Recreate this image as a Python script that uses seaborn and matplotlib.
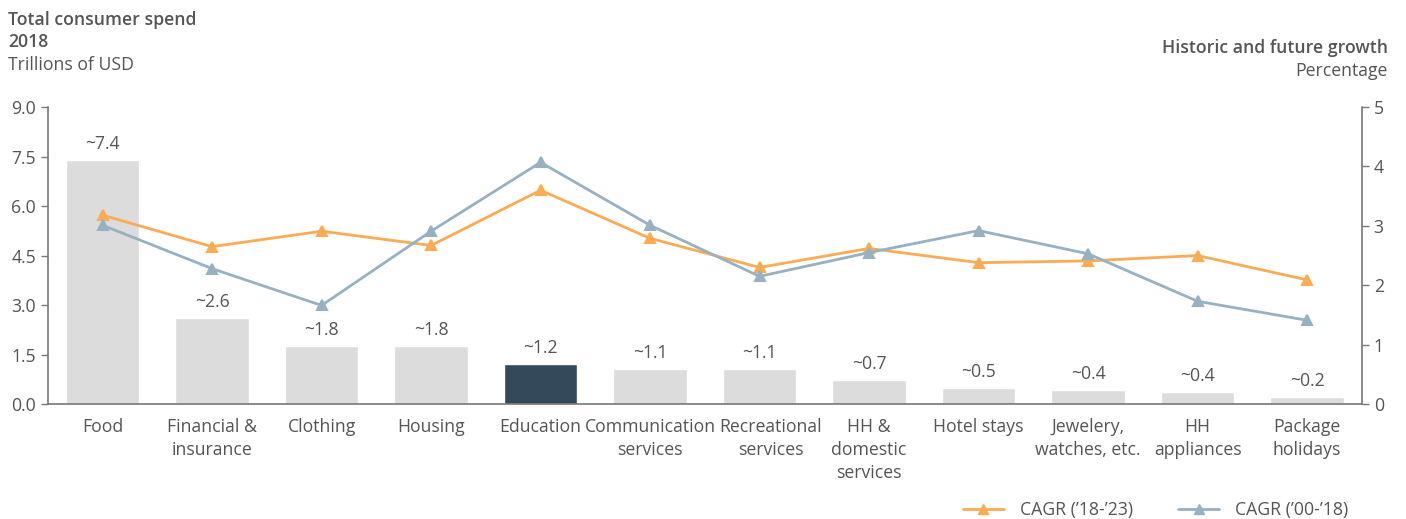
import numpy as np
import pandas as pd
import seaborn as sns
import matplotlib.pyplot as plt
import matplotlib.transforms as mtransforms
from matplotlib.lines import Line2D

# chart data
categories = ["Food", "Financial &\ninsurance", "Clothing", "Housing", "Education",
              "Communication\nservices", "Recreational\nservices", "HH &\ndomestic\nservices",
              "Hotel stays", "Jewelery,\nwatches, etc.", "HH\nappliances", "Package\nholidays"]
spend = [7.4, 2.6, 1.75, 1.75, 1.2, 1.07, 1.07, 0.72, 0.48, 0.42, 0.37, 0.2]
spend_labels = ["~7.4", "~2.6", "~1.8", "~1.8", "~1.2", "~1.1", "~1.1", "~0.7",
                "~0.5", "~0.4", "~0.4", "~0.2"]
cagr_18_23 = [3.18, 2.65, 2.91, 2.67, 3.60, 2.79, 2.30, 2.62, 2.38, 2.41, 2.50, 2.09]
cagr_00_18 = [3.01, 2.28, 1.66, 2.91, 4.07, 3.01, 2.15, 2.55, 2.92, 2.53, 1.73, 1.41]
highlight = "Education"

TXT = "#555555"
AXC = "#777777"
GRAY = "#dcdcdc"
DARK = "#344a5a"
ORANGE = "#f9ab55"
BLUE = "#97b1c2"
FS = 12.7

sns.set_style("white")
plt.rcParams["font.family"] = ["Open Sans", "DejaVu Sans"]
plt.rcParams["text.color"] = TXT
plt.rcParams["xtick.color"] = TXT
plt.rcParams["ytick.color"] = TXT

df = pd.DataFrame({"category": categories, "spend": spend,
                   "cagr_18_23": cagr_18_23, "cagr_00_18": cagr_00_18})
df["group"] = np.where(df["category"] == highlight, "hi", "base")

fig = plt.figure(figsize=(14.06, 5.19), dpi=100)
ax = fig.add_axes([0.034, 0.2216, 0.9346, 0.572])

sns.barplot(data=df, x="category", y="spend", hue="group", order=categories,
            palette={"base": GRAY, "hi": DARK}, dodge=False, width=0.67,
            legend=False, ax=ax, saturation=1)

for i, (v, lab) in enumerate(zip(spend, spend_labels)):
    ax.annotate(lab, (i, v), xytext=(0, 5), textcoords="offset points",
                ha="center", va="bottom", fontsize=FS, color=TXT)

ax.set_ylim(0, 9)
yt = np.arange(0, 9.1, 1.5)
ax.set_yticks(yt)
ax.set_yticklabels([f"{t:.1f}" for t in yt])
ax.set_xlim(-0.5, 11.5)
ax.set_xlabel("")
ax.set_ylabel("")
ax.tick_params(axis="x", length=0, labelsize=FS, pad=10)
for lab in ax.get_xticklabels():
    lab.set_linespacing(1.37)
    if lab.get_text().startswith("Recreational"):
        # nudged right in the original to clear the neighbour
        lab.set_transform(lab.get_transform() +
                          mtransforms.ScaledTranslation(0.11, 0, fig.dpi_scale_trans))
ax.set_xticks(np.arange(-0.5, 11.6, 1), minor=True)
ax.tick_params(axis="x", which="minor", length=5, color=AXC, width=1)
ax.tick_params(axis="y", length=5, color=AXC, width=1, labelsize=FS)
for s in ["top", "right"]:
    ax.spines[s].set_visible(False)
for s in ["left", "bottom"]:
    ax.spines[s].set_color(AXC)
    ax.spines[s].set_linewidth(1.2)

ax2 = ax.twinx()
sns.pointplot(data=df, x="category", y="cagr_18_23", order=categories, color=ORANGE,
              markers="^", markersize=6.5, linewidth=2, ax=ax2)
sns.pointplot(data=df, x="category", y="cagr_00_18", order=categories, color=BLUE,
              markers="^", markersize=6.5, linewidth=2, ax=ax2)
ax2.set_ylim(0, 5)
ax2.set_xlim(-0.5, 11.5)
ax2.set_ylabel("")
ax2.set_yticks(range(0, 6))
ax2.tick_params(axis="y", length=5, color=AXC, width=1, labelsize=FS)
for s in ["top", "left", "bottom"]:
    ax2.spines[s].set_visible(False)
ax2.spines["right"].set_color(AXC)
ax2.spines["right"].set_linewidth(1.2)

# titles
fig.text(0.006, 0.9615, "Total consumer spend", fontsize=FS, fontweight="semibold", va="center")
fig.text(0.006, 0.919, "2018", fontsize=FS, fontweight="semibold", va="center")
fig.text(0.006, 0.8748, "Trillions of USD", fontsize=FS, va="center")
fig.text(0.987, 0.9075, "Historic and future growth", fontsize=FS, fontweight="semibold",
         ha="right", va="center")
fig.text(0.987, 0.863, "Percentage", fontsize=FS, ha="right", va="center")

handles = [Line2D([0], [0], color=ORANGE, marker="^", markersize=6.5, lw=2),
           Line2D([0], [0], color=BLUE, marker="^", markersize=6.5, lw=2)]
fig.legend(handles, ["CAGR (’18-’23)", "CAGR (’00-’18)"], loc="lower right",
           bbox_to_anchor=(0.97, -0.03), ncol=2, frameon=False, fontsize=FS,
           handlelength=2.3, handletextpad=0.9, columnspacing=2.6)

fig.savefig("out.png", dpi=100)
